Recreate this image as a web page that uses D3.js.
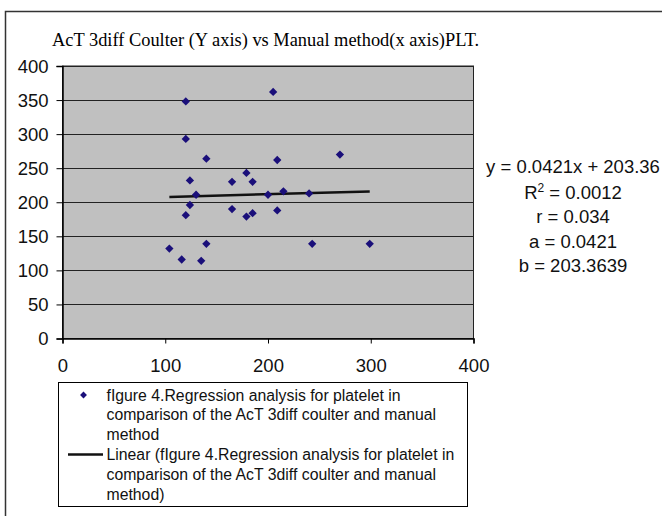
<!DOCTYPE html>
<html><head><meta charset="utf-8">
<script src="https://cdn.jsdelivr.net/npm/d3@7"></script>
<style>body{margin:0;background:#fff}svg{display:block}</style>
</head><body>
<script>
const xValues = [104,116,120,120,120,124,124,130,135,140,140,165,165,179,179,185,185,200,205,209,209,215,240,243,270,299];
const yValues = [132,116,348,293,181,232,196,211,114,264,139,230,190,243,179,230,184,211,362,262,188,216,213,139,270,139];
const slope = 0.0421, intercept = 203.36;
const xTicks = [0,100,200,300,400];
const yTicks = [0,50,100,150,200,250,300,350,400];
const titleText = "AcT 3diff Coulter (Y axis) vs Manual method(x axis)PLT.";
const eqLines = ["y = 0.0421x + 203.36", "R2 = 0.0012", "r = 0.034", "a = 0.0421", "b = 203.3639"];
const legendSeries = ["fIgure 4.Regression analysis for platelet in","comparison of the AcT 3diff coulter and manual","method"];
const legendLinear = ["Linear (fIgure 4.Regression analysis for platelet in","comparison of the AcT 3diff coulter and manual","method)"];

(function(){
const W = 662, H = 516;
const svg = d3.select("body").append("svg").attr("width", W).attr("height", H);
const pL = 62.5, pR = 473.5, pT = 66, pB = 338.5;
const x = d3.scaleLinear().domain([0,400]).range([pL,pR]);
const y = d3.scaleLinear().domain([0,400]).range([pB,pT]);

// outer frame
svg.append("path").attr("d", `M5.5,${H+2}V11.5H${W+2}`).attr("fill","none").attr("stroke","#333").attr("stroke-width",1.5);

// title
svg.append("text").attr("x",52).attr("y",46).attr("font-family","'Liberation Serif','Times New Roman',serif")
  .attr("font-size",18.4).attr("fill","#000").text(titleText);

// plot area
svg.append("rect").attr("x",pL).attr("y",pT).attr("width",pR-pL).attr("height",pB-pT)
  .attr("fill","#c0c0c0").attr("stroke","#222").attr("stroke-width",1);

// grid
svg.append("g").selectAll("line").data(yTicks.filter(d=>d>0)).join("line")
  .attr("x1",pL).attr("x2",pR).attr("y1",d=>Math.round(y(d))+0.5).attr("y2",d=>Math.round(y(d))+0.5)
  .attr("stroke","#222").attr("stroke-width",1);

// axes
const font = "'Liberation Sans',Arial,sans-serif";
const yAxis = svg.append("g").attr("transform",`translate(${pL},0)`)
  .call(d3.axisLeft(y).tickValues(yTicks).tickSize(6).tickPadding(8).tickFormat(d3.format("d")));
const xAxis = svg.append("g").attr("transform",`translate(0,${pB})`)
  .call(d3.axisBottom(x).tickValues(xTicks).tickSize(5).tickPadding(15).tickFormat(d3.format("d")));
[yAxis,xAxis].forEach(a=>{
  a.select(".domain").attr("stroke","#000").attr("stroke-width",1.5);
  a.selectAll(".tick line").attr("stroke","#000");
  a.selectAll("text").attr("font-family",font).attr("font-size",18.5).attr("fill","#111");
});
yAxis.selectAll("text").attr("dy","0.35em");

// trendline
const xmin = d3.min(xValues), xmax = d3.max(xValues);
svg.append("line").attr("x1",x(xmin)).attr("x2",x(xmax))
  .attr("y1",y(slope*xmin+intercept)).attr("y2",y(slope*xmax+intercept))
  .attr("stroke","#111").attr("stroke-width",2.5);

// points
const diamond = d3.symbol().type(d3.symbolDiamond2).size(44);
svg.append("g").selectAll("path").data(xValues.map((v,i)=>[v,yValues[i]])).join("path")
  .attr("d",diamond).attr("transform",d=>`translate(${x(d[0])},${y(d[1])})`).attr("fill","#1a0f7a");

// equation text
const eqY = [173,199,223,248,272];
const eq = svg.append("g").attr("font-family",font).attr("font-size",18.5).attr("fill","#111").attr("text-anchor","middle");
eqLines.forEach((t,i)=>{
  const tx = eq.append("text").attr("x",573).attr("y",eqY[i]);
  if (t.startsWith("R2")) {
    tx.append("tspan").text("R");
    tx.append("tspan").attr("font-size",12).attr("dy",-7).text("2");
    tx.append("tspan").attr("dy",7).text(t.slice(2));
  } else tx.text(t);
});

// legend
svg.append("rect").attr("x",58.5).attr("y",382.5).attr("width",409).attr("height",124)
  .attr("fill","#fff").attr("stroke","#000").attr("stroke-width",1);
const lg = svg.append("g").attr("font-family",font).attr("font-size",15.8).attr("fill","#111");
const base = 400.5, lh = 19.8;
legendSeries.concat(legendLinear).forEach((t,i)=>{
  lg.append("text").attr("x",106.5).attr("y",base+i*lh).text(t);
});
svg.append("path").attr("d",d3.symbol().type(d3.symbolDiamond2).size(30)).attr("transform",`translate(83.5,${base-5.5})`).attr("fill","#1a0f7a");
svg.append("line").attr("x1",68).attr("x2",103).attr("y1",base+3*lh-5.5).attr("y2",base+3*lh-5.5).attr("stroke","#111").attr("stroke-width",2.5);
})();
</script>
</body></html>
